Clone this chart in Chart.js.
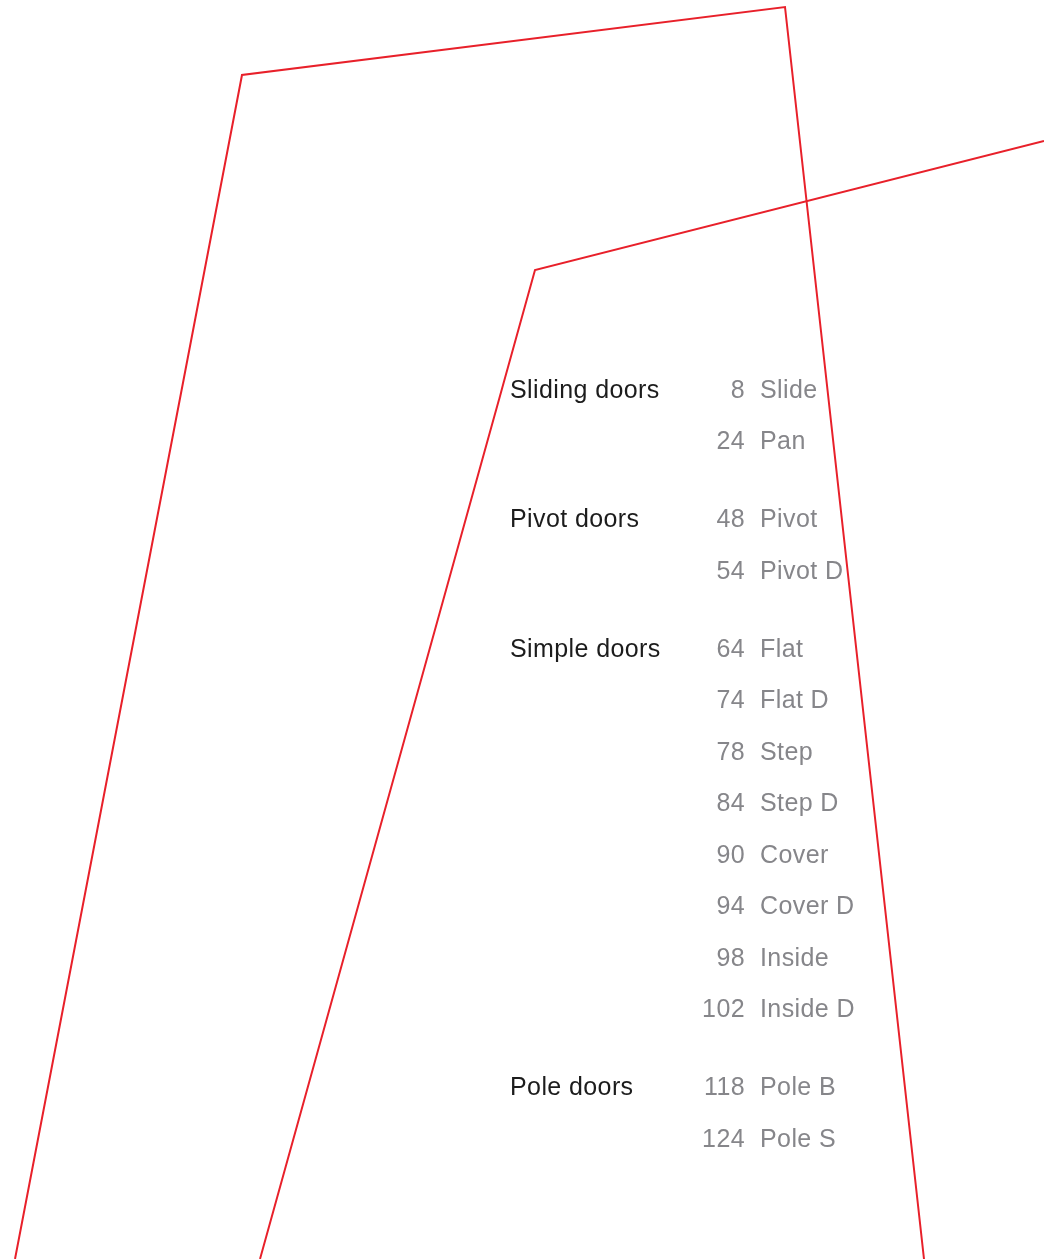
<!DOCTYPE html>
<html>
<head>
<meta charset="utf-8">
<script src="https://cdn.jsdelivr.net/npm/chart.js@4/dist/chart.umd.min.js"></script>
<style>
  html, body { margin: 0; padding: 0; background: #fff; }
  canvas { display: block; }
</style>
</head>
<body>
<canvas id="sumario" width="1044" height="1259"></canvas>
<script>
// linhas vermelhas (vértices na escala da página)
const linhaA_x = [15, 242, 785, 924];
const linhaA_y = [1259, 75, 7, 1259];
const linhaB_x = [260, 535, 1044];
const linhaB_y = [1259, 270, 141];

// sumário
const secoes = ['Sliding doors', 'Pivot doors', 'Simple doors', 'Pole doors'];
const secaoLinha = [391, 520, 650, 1088];
const paginas = [8, 24, 48, 54, 64, 74, 78, 84, 90, 94, 98, 102, 118, 124];
const itens = ['Slide', 'Pan', 'Pivot', 'Pivot D', 'Flat', 'Flat D', 'Step', 'Step D',
               'Cover', 'Cover D', 'Inside', 'Inside D', 'Pole B', 'Pole S'];
const itemLinha = [391, 442, 520, 572, 650, 701, 753, 804, 856, 907, 959, 1010, 1088, 1140];

const COL_SECAO = 510, COL_PAGINA = 745, COL_ITEM = 760;
const FONTE = '25px "Liberation Sans", Arial, sans-serif';

function pontos(xs, ys) {
    return xs.map((x, i) => ({ x: x, y: ys[i] }));
}

const textoSumario = {
    id: 'textoSumario',
    afterDatasetsDraw(chart) {
        const ctx = chart.ctx;
        const sx = chart.scales.x, sy = chart.scales.y;
        ctx.save();
        ctx.font = FONTE;
        ctx.letterSpacing = '0.4px';
        ctx.textBaseline = 'middle';

        ctx.fillStyle = '#1c1c1c';
        ctx.textAlign = 'left';
        secoes.forEach((s, i) => {
            ctx.fillText(s, sx.getPixelForValue(COL_SECAO), sy.getPixelForValue(secaoLinha[i]));
        });

        ctx.fillStyle = '#86868a';
        paginas.forEach((p, i) => {
            const y = sy.getPixelForValue(itemLinha[i]);
            ctx.textAlign = 'right';
            ctx.fillText(String(p), sx.getPixelForValue(COL_PAGINA), y);
            ctx.textAlign = 'left';
            ctx.fillText(itens[i], sx.getPixelForValue(COL_ITEM), y);
        });
        ctx.restore();
    }
};

new Chart(document.getElementById('sumario'), {
    type: 'scatter',
    data: {
        datasets: [
            {
                data: pontos(linhaA_x, linhaA_y),
                showLine: true,
                borderColor: '#e8202a',
                borderWidth: 2,
                pointRadius: 0,
                tension: 0
            },
            {
                data: pontos(linhaB_x, linhaB_y),
                showLine: true,
                borderColor: '#e8202a',
                borderWidth: 2,
                pointRadius: 0,
                tension: 0
            }
        ]
    },
    options: {
        responsive: false,
        animation: false,
        layout: { padding: 0 },
        plugins: {
            legend: { display: false },
            tooltip: { enabled: false }
        },
        scales: {
            x: { type: 'linear', min: 0, max: 1044, display: false },
            y: { type: 'linear', min: 0, max: 1259, reverse: true, display: false }
        }
    },
    plugins: [textoSumario]
});
</script>
</body>
</html>
